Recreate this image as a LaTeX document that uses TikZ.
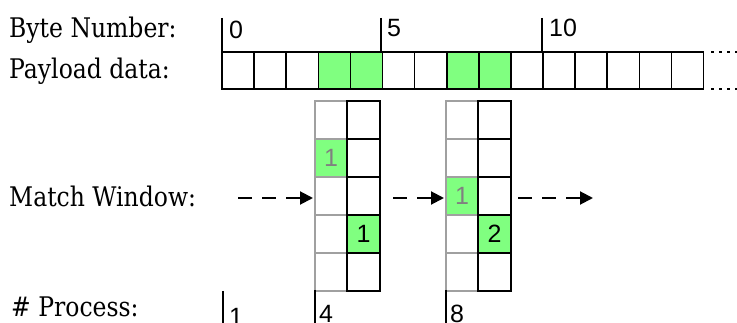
\documentclass[tikz,border=0pt]{standalone}
\usepackage{fontspec}
\setmainfont{DejaVu Serif}
\newfontfamily\numfont{Liberation Sans}
\usetikzlibrary{arrows.meta}
\definecolor{hit}{HTML}{80FF80}
\definecolor{lgray}{HTML}{A0A0A0}
\definecolor{tgray}{HTML}{808080}
\newcommand{\lab}[1]{\scalebox{0.87}[1]{#1}}
\begin{document}
\begin{tikzpicture}[x=1pt,y=-1pt,
  lbl/.style={font=\fontsize{27}{27}\selectfont,anchor=base west,inner sep=0pt},
  num/.style={font=\numfont\fontsize{25}{25}\selectfont,anchor=base west,inner sep=0pt},
  cellnum/.style={font=\numfont\fontsize{25}{25}\selectfont,inner sep=0pt},
  bcell/.style={draw=black,line width=1.6pt},
  gcell/.style={draw=lgray,line width=1.6pt},
  tick/.style={line width=1.6pt},
  more/.style={line width=2.2pt,dash pattern=on 3pt off 5pt},
  flow/.style={line width=2pt,dash pattern=on 14pt off 10pt,-{Triangle[length=13pt,width=13pt]}}]
\useasboundingbox (0,0) rectangle (737,323);
% labels
\node[lbl] (lbyte) at (9,38) {\lab{Byte Number:}};
\node[lbl] (lpay) at (9,79) {\lab{Payload data:}};
\node[lbl] (lmatch) at (9,207) {\lab{Match Window:}};
\node[lbl] (lproc) at (11,317) {\lab{\# Process:}};
% payload cells
\foreach \i in {3,4,7,8}{
  \fill[hit] (222+32.1*\i,52) rectangle ++(32.1,37);
}
\foreach \i in {0,...,14}{
  \draw[bcell] (222+32.1*\i,52) rectangle ++(32.1,37);
}
\coordinate (d1s) at (711,52);
\coordinate (d1e) at (737,52);
\coordinate (d2s) at (711,89);
\coordinate (d2e) at (737,89);
\draw[more] (d1s) -- (d1e);
\draw[more] (d2s) -- (d2e);
% byte ticks
\coordinate (t0) at (222,18);
\coordinate (t5) at (381,18);
\coordinate (t10) at (542,18);
\draw[tick] (t0) -- (222,52);
\draw[tick] (t5) -- (381,52);
\draw[tick] (t10) -- (542,52);
\node[num] (n0) at (229,39) {0};
\node[num] (n5) at (387,37) {5};
\node[num] (n10) at (549,37) {10};
% windows
\foreach \wx/\ga/\gb/\ta/\tb in {315/2/4/1/1, 446/3/4/1/2}{
  \fill[hit] (\wx,101+38*\ga-38) rectangle ++(32,38);
  \fill[hit] (\wx+32,101+38*\gb-38) rectangle ++(33,38);
  \foreach \r in {0,...,4}{
    \draw[gcell] (\wx,101+38*\r) rectangle ++(32,38);
  }
  \foreach \r in {0,...,4}{
    \draw[bcell] (\wx+32,101+38*\r) rectangle ++(33,38);
  }
  \node[cellnum,text=tgray] at (\wx+16,101+38*\ga-19) {\ta};
  \node[cellnum] at (\wx+48.5,101+38*\gb-19) {\tb};
}
% flow arrows
\coordinate (a1s) at (238,198);
\coordinate (a1e) at (313,198);
\coordinate (a2s) at (393,198);
\coordinate (a2e) at (444,198);
\coordinate (a3s) at (518,198);
\coordinate (a3e) at (593,198);
\draw[flow] (a1s) -- (a1e);
\draw[flow] (a2s) -- (a2e);
\draw[flow] (a3s) -- (a3e);
% process ticks
\draw[tick] (223,291) -- (223,323);
\draw[tick] (315,290) -- (315,323);
\draw[tick] (446,290) -- (446,323);
\node[num] (q1) at (229,326) {1};
\node[num] (q4) at (319,323) {4};
\node[num] (q8) at (450,323) {8};
\end{tikzpicture}
\end{document}
